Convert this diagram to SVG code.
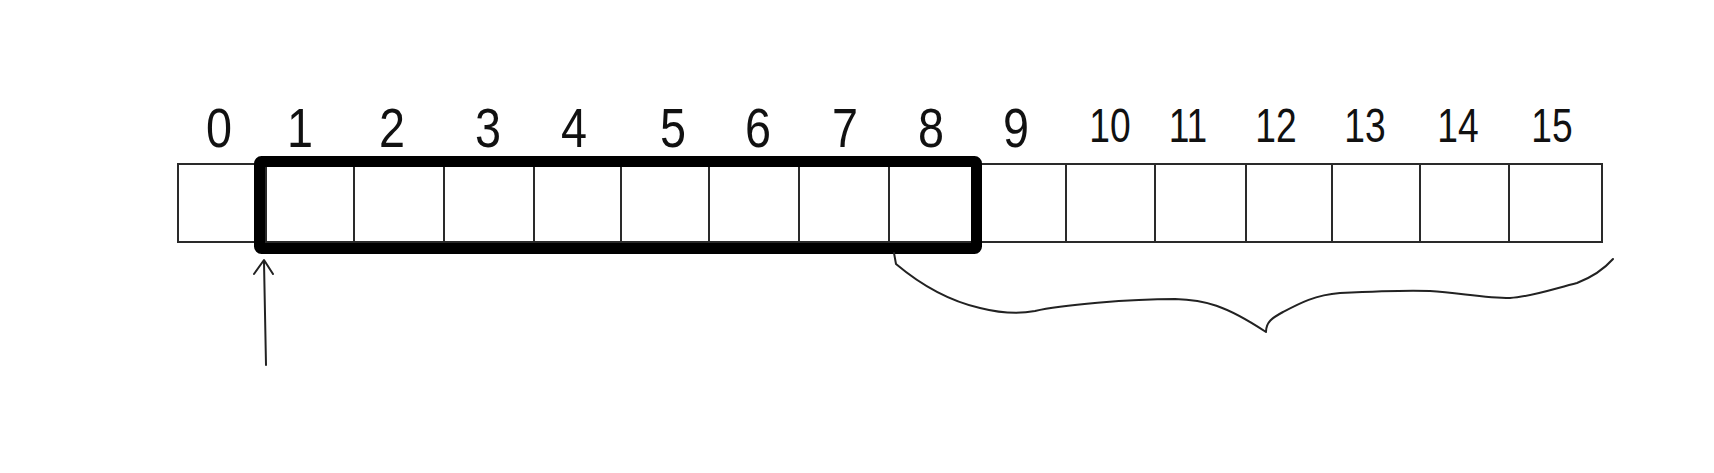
<svg xmlns="http://www.w3.org/2000/svg" width="1714" height="473" viewBox="0 0 1714 473">
<style>
.cell{fill:none;stroke:#2a2a2a;stroke-width:2}
.lbl{font-family:"Liberation Sans",Arial,sans-serif;font-size:55px;fill:#111;text-anchor:middle}
.lbl2{font-family:"Liberation Sans",Arial,sans-serif;font-size:49px;fill:#111;text-anchor:middle}
.win{fill:none;stroke:#000;stroke-width:11;stroke-linejoin:round}
.conn{fill:none;stroke:#222;stroke-width:2;stroke-linecap:round;stroke-linejoin:round}
</style>
<rect width="1714" height="473" fill="#fff"/>
<g id="cells">
<g id="cell0"><rect class="cell" x="178" y="164" width="88" height="78"/><text class="lbl" transform="translate(219,147) scale(0.85,1)">0</text></g>
<g id="cell1"><rect class="cell" x="266" y="164" width="88" height="78"/><text class="lbl" transform="translate(300,147) scale(0.85,1)">1</text></g>
<g id="cell2"><rect class="cell" x="354" y="164" width="90" height="78"/><text class="lbl" transform="translate(392,147) scale(0.85,1)">2</text></g>
<g id="cell3"><rect class="cell" x="444" y="164" width="90" height="78"/><text class="lbl" transform="translate(488,147) scale(0.85,1)">3</text></g>
<g id="cell4"><rect class="cell" x="534" y="164" width="87" height="78"/><text class="lbl" transform="translate(574,147) scale(0.85,1)">4</text></g>
<g id="cell5"><rect class="cell" x="621" y="164" width="88" height="78"/><text class="lbl" transform="translate(673,147) scale(0.85,1)">5</text></g>
<g id="cell6"><rect class="cell" x="709" y="164" width="90" height="78"/><text class="lbl" transform="translate(758,147) scale(0.85,1)">6</text></g>
<g id="cell7"><rect class="cell" x="799" y="164" width="90" height="78"/><text class="lbl" transform="translate(845,147) scale(0.85,1)">7</text></g>
<g id="cell8"><rect class="cell" x="889" y="164" width="88" height="78"/><text class="lbl" transform="translate(931,147) scale(0.85,1)">8</text></g>
<g id="cell9"><rect class="cell" x="977" y="164" width="89" height="78"/><text class="lbl" transform="translate(1016,147) scale(0.85,1)">9</text></g>
<g id="cell10"><rect class="cell" x="1066" y="164" width="89" height="78"/><text class="lbl2" transform="translate(1110,142) scale(0.76,1)">10</text></g>
<g id="cell11"><rect class="cell" x="1155" y="164" width="91" height="78"/><text class="lbl2" transform="translate(1188,142) scale(0.76,1)">11</text></g>
<g id="cell12"><rect class="cell" x="1246" y="164" width="86" height="78"/><text class="lbl2" transform="translate(1276,142) scale(0.76,1)">12</text></g>
<g id="cell13"><rect class="cell" x="1332" y="164" width="88" height="78"/><text class="lbl2" transform="translate(1365,142) scale(0.76,1)">13</text></g>
<g id="cell14"><rect class="cell" x="1420" y="164" width="89" height="78"/><text class="lbl2" transform="translate(1458,142) scale(0.76,1)">14</text></g>
<g id="cell15"><rect class="cell" x="1509" y="164" width="93" height="78"/><text class="lbl2" transform="translate(1552,142) scale(0.76,1)">15</text></g>
</g>
<g id="window"><rect class="win" x="259.5" y="161.5" width="717" height="87" rx="2"/></g>
<g id="connectors">
<path class="conn" d="M266,365 L264,262"/>
<path class="conn" d="M254,274 L264,260 L273,274"/>
<path class="conn" d="M894,253 L896,264 C915,280 945,300 980,308 C1000,313 1020,314 1035,311 C1060,305 1130,299 1175,299 C1205,300 1225,305 1266,332 C1266,322 1272,318 1283,312 C1300,303 1315,295 1340,293 C1380,291 1410,290 1430,291 C1460,293 1485,298 1510,298 C1530,297 1550,290 1577,283 C1595,276 1605,268 1613,259"/>
</g>
</svg>
